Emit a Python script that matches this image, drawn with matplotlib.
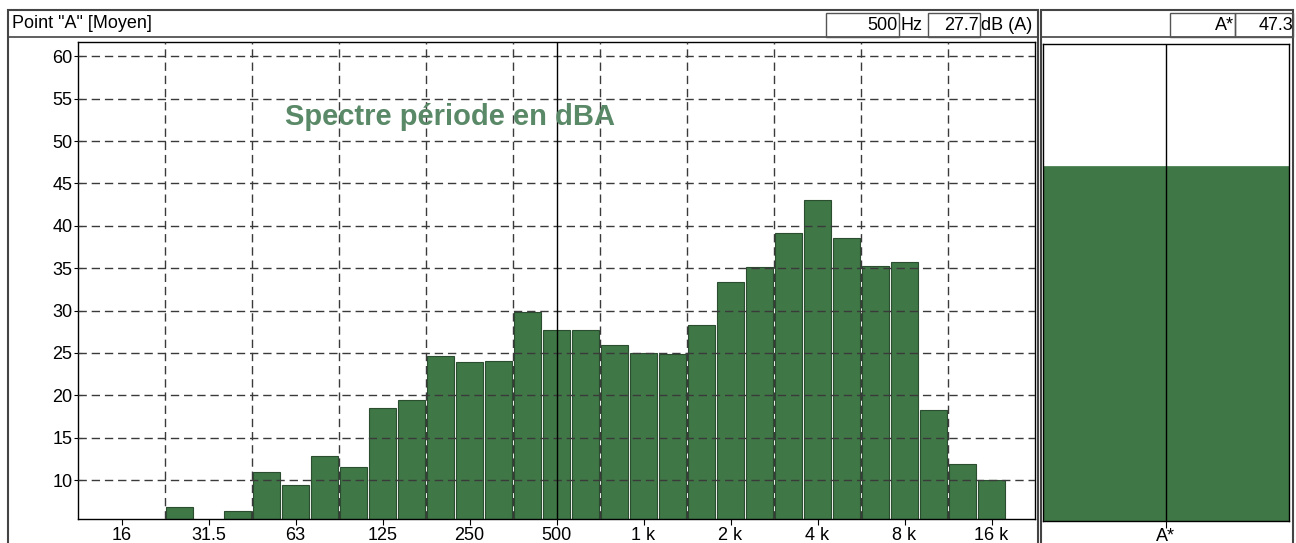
import numpy as np
import matplotlib
matplotlib.use("Agg")
import matplotlib.pyplot as plt
from matplotlib.patches import Rectangle

plt.rcParams["font.family"] = ["Liberation Sans", "DejaVu Sans"]

# third-octave band levels (dBA), NaN = no bar shown
bands = ["16", "20", "25", "31.5", "40", "50", "63", "80", "100", "125",
         "160", "200", "250", "315", "400", "500", "630", "800", "1k", "1.25k",
         "1.6k", "2k", "2.5k", "3.15k", "4k", "5k", "6.3k", "8k", "10k", "12.5k", "16k"]
levels = [np.nan, np.nan, 6.8, np.nan, 6.4, 11.0, 9.4, 12.8, 11.5, 18.5,
          19.4, 24.6, 23.9, 24.0, 29.8, 27.7, 27.7, 25.9, 25.0, 24.9,
          28.3, 33.4, 35.1, 39.1, 43.1, 38.6, 35.3, 35.7, 18.3, 11.9, 10.0]
tick_labels = ["16", "31.5", "63", "125", "250", "500", "1 k", "2 k", "4 k", "8 k", "16 k"]
global_label = "A*"
global_level = 47.3
cursor_band = "500"
cursor_level = 27.7

W, H = 1296, 543
GREEN = "#3f7746"
EDGE = "#2b4d30"
GRID = "#3a3a3a"


def fx(x):
    return x / W


def fy(y):
    return 1 - y / H


def box(fig, x0, y0, x1, y1, lw=1.0, ec="#555555"):
    fig.add_artist(Rectangle((fx(x0), fy(y1)), (x1 - x0) / W, (y1 - y0) / H,
                             transform=fig.transFigure, fill=False, lw=lw, ec=ec))


fig = plt.figure(figsize=(W / 100, H / 100), dpi=100)

# main spectrum axes
ax = fig.add_axes([fx(78), fy(519), (1035 - 78) / W, (519 - 42) / H])
x = np.arange(len(bands))
ax.bar(x, levels, width=0.9, color=GREEN, edgecolor=EDGE, linewidth=0.8, zorder=2)
ax.set_xlim(-1.5, 31.5)
ax.set_ylim(5.4, 61.7)
ax.set_yticks(np.arange(10, 61, 5))
ax.set_xticks(np.arange(0, 31, 3))
ax.set_xticklabels(tick_labels)
ax.tick_params(axis="both", labelsize=13, direction="out", length=4, pad=1.5, width=0.8)
ax.tick_params(axis="y", direction="inout", length=6, pad=1)
for yv in np.arange(10, 61, 5):
    ax.axhline(yv, color=GRID, lw=1.0, ls=(0, (6, 3.5)), zorder=3)
for xv in np.arange(1.5, 30, 3):
    ax.axvline(xv, color=GRID, lw=1.0, ls=(0, (6, 3.5)), zorder=3)
ax.axvline(bands.index(cursor_band), color="black", lw=1.0, zorder=4)
for s in ax.spines.values():
    s.set_linewidth(1.0)
ax.text(fx(285), fy(117), "Spectre période en dBA", transform=fig.transFigure,
        fontsize=21, fontweight="bold", color="#5a8968", va="center", ha="left",
        zorder=5)

# global level axes
ax2 = fig.add_axes([fx(1043), fy(521), (1289 - 1043) / W, (521 - 44) / H])
ax2.bar([0], [global_level], width=1.0, color=GREEN, edgecolor=GREEN, linewidth=0.5)
ax2.set_xlim(-0.5, 0.5)
ax2.set_ylim(5.4, 61.7)
ax2.set_yticks([])
ax2.set_xticks([0])
ax2.set_xticklabels([global_label])
ax2.tick_params(axis="x", labelsize=13, length=5, pad=0)
ax2.axvline(0, color="black", lw=1.0)
for s in ax2.spines.values():
    s.set_linewidth(1.0)

# panel frames and header boxes
box(fig, 8, 10, 1038, 560, lw=1.5, ec="#444444")
box(fig, 8, 10, 1038, 37, lw=1.2, ec="#444444")
box(fig, 1041, 10, 1293, 560, lw=1.5, ec="#444444")
box(fig, 1041, 10, 1293, 37, lw=1.2, ec="#444444")
box(fig, 826, 13, 899, 37)
box(fig, 928, 13, 980, 37)
box(fig, 1170, 13, 1235, 37)
box(fig, 1235, 13, 1293, 37)

fig.text(fx(12), fy(24), 'Point "A" [Moyen]', ha="left", fontsize=13, va="center")
fig.text(fx(898), fy(25), cursor_band, ha="right", fontsize=13, va="center")
fig.text(fx(900), fy(25), "Hz", ha="left", fontsize=13, va="center")
fig.text(fx(979), fy(25), f"{cursor_level:.1f}", ha="right", fontsize=13, va="center")
fig.text(fx(981), fy(25), "dB (A)", ha="left", fontsize=13, va="center")
fig.text(fx(1234), fy(25), global_label, ha="right", fontsize=13, va="center")
fig.text(fx(1293), fy(25), f"{global_level:.1f}", ha="right", fontsize=13, va="center")

fig.savefig("out.png", dpi=100)
